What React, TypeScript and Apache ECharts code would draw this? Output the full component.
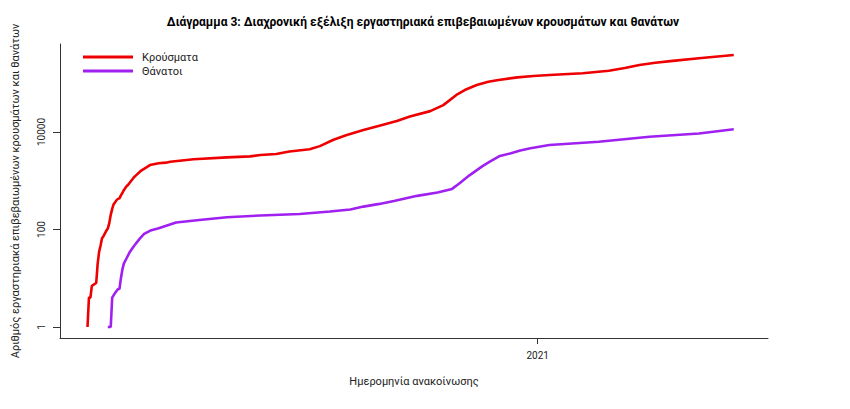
import React, { useEffect, useRef } from 'react';
import * as echarts from 'echarts';

const titleText = 'Διάγραμμα 3: Διαχρονική εξέλιξη εργαστηριακά επιβεβαιωμένων κρουσμάτων και θανάτων';
const yAxisName = 'Αριθμός εργαστηριακά επιβεβαιωμένων κρουσμάτων και θανάτων';
const xAxisName = 'Ημερομηνία ανακοίνωσης';
const seriesNames = ['Κρούσματα', 'Θάνατοι'];

const caseDates = [
  '2020-02-26', '2020-02-27', '2020-02-28', '2020-02-29', '2020-03-03', '2020-03-04', '2020-03-05',
  '2020-03-06', '2020-03-07', '2020-03-08', '2020-03-10', '2020-03-11', '2020-03-12', '2020-03-13',
  '2020-03-14', '2020-03-15', '2020-03-16', '2020-03-17', '2020-03-18', '2020-03-19', '2020-03-20',
  '2020-03-21', '2020-03-22', '2020-03-24', '2020-03-25', '2020-03-29', '2020-03-30', '2020-04-03',
  '2020-04-09', '2020-04-15', '2020-04-20', '2020-04-23', '2020-05-09', '2020-06-01', '2020-06-17',
  '2020-06-24', '2020-07-05', '2020-07-14', '2020-07-28', '2020-08-04', '2020-08-13', '2020-08-22',
  '2020-09-03', '2020-09-14', '2020-09-26', '2020-10-05', '2020-10-19', '2020-10-28', '2020-11-06',
  '2020-11-13', '2020-11-20', '2020-11-28', '2020-12-05', '2020-12-18', '2020-12-29', '2021-01-09',
  '2021-02-01', '2021-02-19', '2021-03-02', '2021-03-12', '2021-03-23', '2021-04-04', '2021-04-22',
  '2021-05-16',
];
const caseValues = [
  1, 4, 4, 7, 8, 20, 35,
  47, 66, 73, 95, 105, 135, 200,
  265, 330, 360, 400, 425, 435, 500,
  560, 640, 780, 830, 1180, 1260, 1620,
  2100, 2280, 2350, 2460, 2760, 3020, 3160,
  3380, 3540, 3970, 4410, 5130, 6860, 8600,
  10970, 13500, 16800, 20800, 26800, 35600, 57500,
  75500, 91800, 107000, 117000, 132000, 141000, 148000,
  160000, 181000, 205000, 236000, 264000, 288000, 326000,
  380000,
];

const deathDates = [
  '2020-03-11', '2020-03-13', '2020-03-14', '2020-03-16', '2020-03-18', '2020-03-19', '2020-03-20',
  '2020-03-21', '2020-03-22', '2020-03-24', '2020-03-26', '2020-03-29', '2020-04-02', '2020-04-05',
  '2020-04-10', '2020-04-15', '2020-04-27', '2020-05-13', '2020-06-01', '2020-06-24', '2020-07-21',
  '2020-08-11', '2020-08-25', '2020-09-03', '2020-09-14', '2020-09-24', '2020-10-10', '2020-10-24',
  '2020-11-03', '2020-11-08', '2020-11-15', '2020-11-24', '2020-11-29', '2020-12-06', '2020-12-13',
  '2020-12-20', '2020-12-27', '2021-01-09', '2021-02-12', '2021-03-19', '2021-04-22', '2021-05-16',
];
const deathValues = [
  1, 1, 4, 5, 6, 6, 10,
  15, 20, 26, 34, 46, 65, 81,
  97, 106, 139, 157, 178, 194, 208,
  234, 258, 295, 335, 385, 490, 575,
  680, 880, 1290, 2000, 2460, 3220, 3620,
  4170, 4630, 5390, 6320, 7960, 9310, 11360,
];

const yTickValues = [1, 100, 10000];
const xTickDates = ['2021-01-01T00:00:00'];
const xMinDate = '2020-02-07T01:30:00';
const xMaxDate = '2021-06-08T14:00:00';
const yMin = 0.595;
const yMax = 638000;

const FONT = 'Roboto, "Liberation Sans", sans-serif';
const AXIS_COLOR = '#333333';

const toTime = (d: string) => new Date(d.length === 10 ? d + 'T00:00:00' : d).getTime();

export default function App() {
  const ref = useRef<HTMLDivElement>(null);
  useEffect(() => {
    if (!ref.current) return;
    const chart = echarts.init(ref.current, null, { renderer: 'svg' });
    const caseData = caseDates.map((d, i) => [toTime(d), caseValues[i]]);
    const deathData = deathDates.map((d, i) => [toTime(d), deathValues[i]]);
    const xTicks = xTickDates.map(toTime);
    chart.setOption({
      animation: false,
      backgroundColor: '#ffffff',
      title: {
        text: titleText,
        left: 418,
        textAlign: 'center',
        top: 11,
        textStyle: { fontFamily: FONT, fontSize: 12, fontWeight: 'bold', color: '#000' },
      },
      legend: {
        orient: 'vertical',
        left: 78,
        top: 45,
        itemWidth: 50,
        itemHeight: 3,
        itemGap: 0,
        icon: 'rect',
        formatter: '{t|{name}}',
        textStyle: {
          fontFamily: FONT,
          fontSize: 11,
          color: '#222',
          lineHeight: 14,
          rich: { t: { fontFamily: FONT, fontSize: 11, color: '#222', lineHeight: 14, padding: [0, 0, 0, 4] } },
        },
        data: seriesNames,
      },
      grid: { left: 60, right: 82, top: 44, bottom: 71 },
      xAxis: {
        type: 'value',
        min: toTime(xMinDate),
        max: toTime(xMaxDate),
        name: xAxisName,
        nameLocation: 'middle',
        nameGap: 38,
        nameTextStyle: { fontFamily: FONT, fontSize: 11, color: '#222' },
        axisLine: { show: true, lineStyle: { color: AXIS_COLOR, width: 1 } },
        axisTick: { show: true, length: 6, customValues: xTicks, lineStyle: { color: AXIS_COLOR } },
        axisLabel: {
          customValues: xTicks,
          fontFamily: FONT,
          fontSize: 10,
          color: '#222',
          margin: 12,
          formatter: (v: number) => String(new Date(v).getFullYear()),
        },
        splitLine: { show: false },
      },
      yAxis: {
        type: 'log',
        logBase: 10,
        min: yMin,
        max: yMax,
        name: yAxisName,
        nameLocation: 'middle',
        nameGap: 39,
        nameTextStyle: { fontFamily: FONT, fontSize: 11, color: '#222' },
        axisLine: { show: true, lineStyle: { color: AXIS_COLOR, width: 1 } },
        axisTick: { show: true, length: 7, customValues: yTickValues, lineStyle: { color: AXIS_COLOR } },
        axisLabel: {
          customValues: yTickValues,
          rotate: 90,
          fontFamily: FONT,
          fontSize: 10,
          color: '#222',
          margin: 14,
          formatter: (v: number) => String(Math.round(v)),
        },
        splitLine: { show: false },
        minorTick: { show: false },
      },
      series: [
        {
          name: seriesNames[0],
          type: 'line',
          data: caseData,
          showSymbol: false,
          symbol: 'none',
          color: '#ee0000',
          lineStyle: { color: '#ee0000', width: 2.6 },
        },
        {
          name: seriesNames[1],
          type: 'line',
          data: deathData,
          showSymbol: false,
          symbol: 'none',
          color: '#a020f0',
          lineStyle: { color: '#a020f0', width: 2.6 },
        },
      ],
    });
    return () => chart.dispose();
  }, []);
  return (
    <div
      ref={ref}
      style={{ position: 'fixed', left: 0, top: 0, width: 850, height: 409, background: '#fff' }}
    />
  );
}
